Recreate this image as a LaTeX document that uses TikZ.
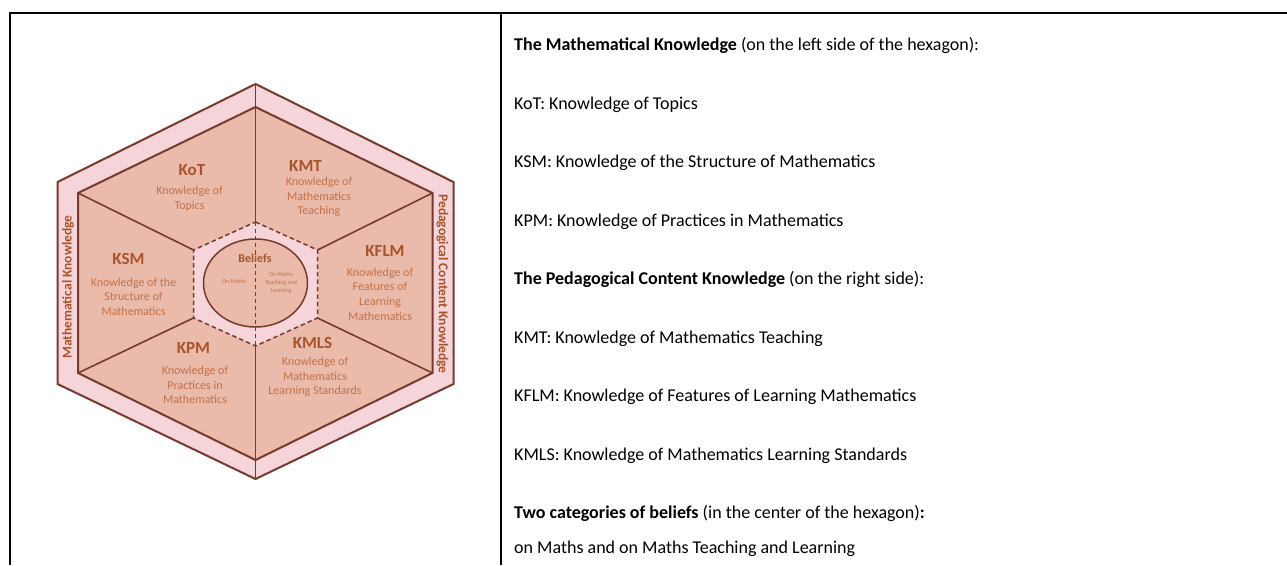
\documentclass[tikz,border=0pt]{standalone}
\usepackage{fontspec}
\setmainfont{Carlito}
\definecolor{bandpink}{RGB}{245,213,217}
\definecolor{sectorrose}{RGB}{234,186,171}
\definecolor{hexline}{RGB}{120,58,48}
\definecolor{titlebrown}{RGB}{168,84,42}
\definecolor{subbrown}{RGB}{194,114,72}
\tikzset{
  rule/.style    = {draw=black, line width=2pt},
  band/.style    = {fill=bandpink, draw=hexline, line width=2pt, line join=miter},
  sector/.style  = {fill=sectorrose, draw=hexline, line width=2pt, line join=miter},
  core/.style    = {fill=bandpink, draw=hexline, line width=1.5pt,
                    dash pattern=on 4.5pt off 3pt},
  spoke/.style   = {draw=hexline, line width=1.6pt},
  ktitle/.style  = {font=\fontsize{17}{20}\selectfont\bfseries, text=titlebrown,
                    inner sep=0pt},
  ktext/.style   = {font=\fontsize{12}{14.6}\selectfont, text=subbrown,
                    align=center, inner sep=0pt},
  tinytext/.style= {font=\fontsize{6}{8}\selectfont, text=subbrown,
                    align=center, inner sep=0pt},
  sidelab/.style = {font=\fontsize{13.5}{16}\selectfont\bfseries, text=titlebrown,
                    inner sep=0pt},
  legend/.style  = {anchor=base west, font=\fontsize{18}{20}\selectfont,
                    inner sep=0pt}
}

\begin{document}
\begin{tikzpicture}[x=1pt, y=-1pt]
\useasboundingbox (0,0) rectangle (1287,565);
% ---- table frame ----
\coordinate (tabtl) at (9,13);
\coordinate (tabtr) at (1287,13);
\coordinate (tabbl) at (10,565);
\coordinate (divt) at (501,13);
\coordinate (divb) at (501,565);
\draw[rule] (tabtl) -- (tabtr);
\draw[rule] (10,12) -- (tabbl);
\draw[rule, line width=1.5pt] (divt) -- (divb);

% ---- hexagon corners: outer, inner, core ----
\foreach \nm/\hx/\hy in {%
  ot/255.5/84, our/453.5/182, olr/453.5/384, ob/255.5/479, oll/57.5/384, oul/57.5/182,
  it/255.5/107, iur/432.5/193, ilr/432.5/373, ib/255.5/460, ill/78/373, iul/78/193,
  ct/255.5/222, cur/317.5/250, clr/317.5/318, cb/255.5/346, cll/193.5/318, cul/193.5/250}
  \coordinate (\nm) at (\hx,\hy);

\draw[band]   (ot) -- (our) -- (olr) -- (ob) -- (oll) -- (oul) -- cycle;
\draw[sector] (it) -- (iur) -- (ilr) -- (ib) -- (ill) -- (iul) -- cycle;
\draw[core]   (ct) -- (cur) -- (clr) -- (cb) -- (cll) -- (cul) -- cycle;
\draw[fill=sectorrose, draw=hexline, line width=1.5pt]
  (255.5,283) ellipse [x radius=52pt, y radius=44pt];

% ---- spokes ----
\foreach \a/\b in {ct/ot, cb/ob, cul/iul, cur/iur, cll/ill, clr/ilr}
  \draw[spoke] (\a) -- (\b);
\draw[spoke, line width=1.3pt, dash pattern=on 4pt off 3pt] (ct) -- (cb);

% ---- sector labels ----
\foreach \tx/\ty/\nm/\lab in {%
  192/170/kot/KoT, 305.5/165.5/kmt/KMT, 128.5/259/ksm/KSM,
  385/250.5/kflm/KFLM, 193.5/347.5/kpm/KPM, 312.5/342.5/kmls/KMLS}
  \node[ktitle] (\nm) at (\tx,\ty) {\lab};
\foreach \tx/\ty/\nm/\lab in {%
  189.5/198.5/kotx/{Knowledge of\\Topics},
  319/197/kmtx/{Knowledge of\\Mathematics\\Teaching},
  133.5/296.7/ksmx/{Knowledge of the\\Structure of\\Mathematics},
  380/294/kflmx/{Knowledge of\\Features of\\Learning\\Mathematics},
  195/385/kpmx/{Knowledge of\\Practices in\\Mathematics},
  315/377/kmlsx/{Knowledge of\\Mathematics\\Learning Standards}}
  \node[ktext] (\nm) at (\tx,\ty) {\lab};

% ---- beliefs ----
\node[font=\fontsize{12}{14}\selectfont\bfseries, text=titlebrown, inner sep=0pt]
  (bel) at (255,258) {Beliefs};
\node[tinytext] (onmaths) at (234,281) {On Maths};
\node[tinytext] (onteach) at (281,283) {On Maths\\Teaching and\\Learning};

% ---- side labels ----
\node[sidelab, rotate=90]  (mk)  at (68,287)    {Mathematical Knowledge};
\node[sidelab, rotate=-90] (pck) at (442.5,284) {Pedagogical Content Knowledge};

% ---- legend column ----
\foreach \ly/\nm/\txt in {%
  50.5/lgmk/{\textbf{The Mathematical Knowledge} (on the left side of the hexagon):},
  109/lgkot/{KoT: Knowledge of Topics},
  167.5/lgksm/{KSM: Knowledge of the Structure of Mathematics},
  226/lgkpm/{KPM: Knowledge of Practices in Mathematics},
  284.5/lgpck/{\textbf{The Pedagogical Content Knowledge} (on the right side):},
  343/lgkmt/{KMT: Knowledge of Mathematics Teaching},
  401.5/lgkflm/{KFLM: Knowledge of Features of Learning Mathematics},
  460/lgkmls/{KMLS: Knowledge of Mathematics Learning Standards},
  518.5/lgbel/{\textbf{Two categories of beliefs} (in the center of the hexagon)\textbf{:}},
  553.5/lgon/{on Maths and on Maths Teaching and Learning}}
  \node[legend] (\nm) at (514,\ly) {\txt};
\end{tikzpicture}
\end{document}
